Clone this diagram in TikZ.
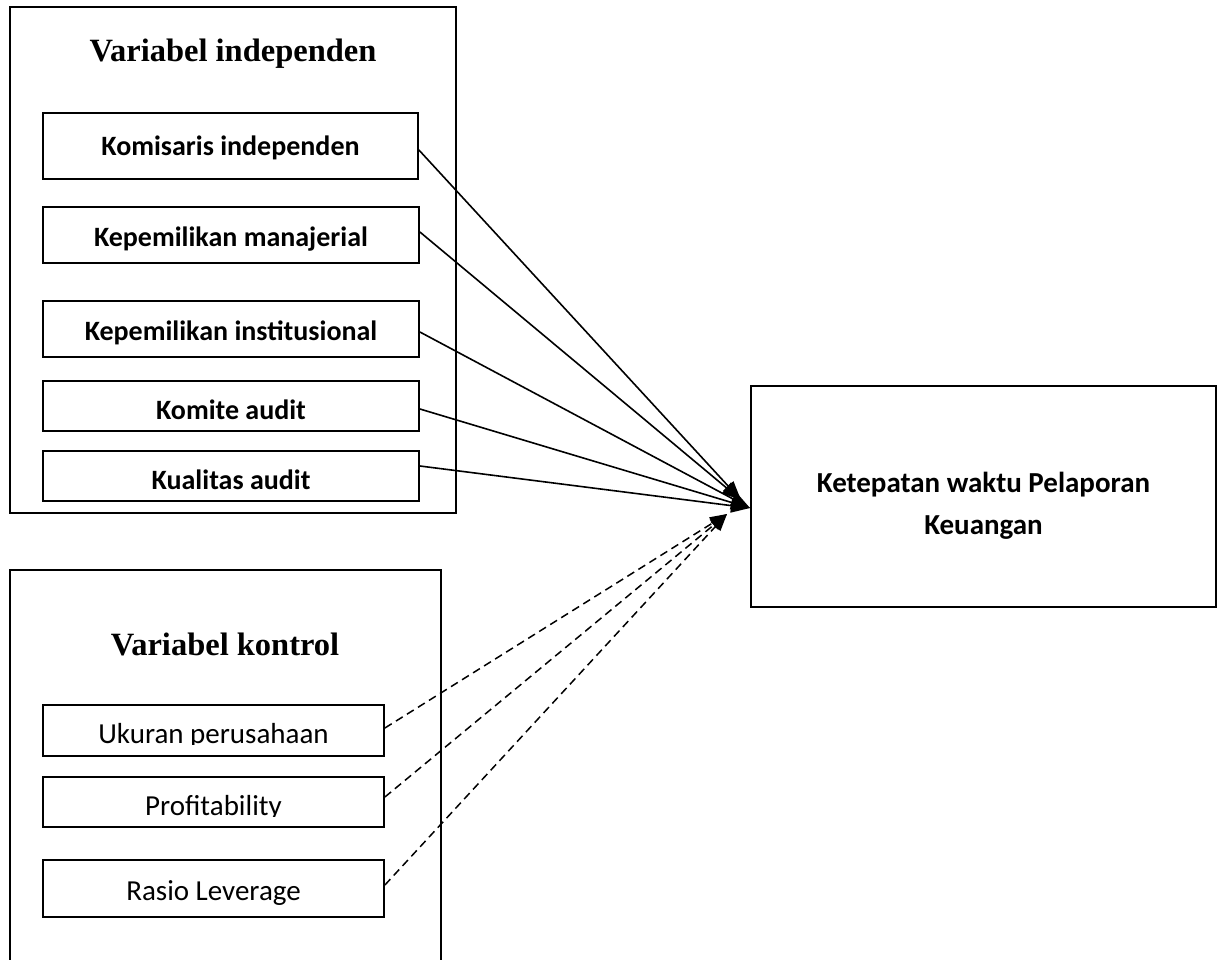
\documentclass[tikz,border=0pt]{standalone}
\usepackage{fontspec}
\setmainfont{Liberation Serif}
\newfontfamily\carl{Carlito}
\usetikzlibrary{arrows.meta}
\begin{document}
\begin{tikzpicture}[x=1pt,y=-1pt,
  container/.style={draw,line width=1.8pt},
  varbox/.style={draw,line width=1.8pt,inner sep=0pt,anchor=center},
  ttl/.style={font=\fontsize{32.5}{38}\selectfont\bfseries},
  btxt/.style={font=\carl\fontsize{28}{42}\selectfont\bfseries},
  rtxt/.style={font=\carl\fontsize{29}{34}\selectfont},
  solidarrow/.style={line width=1.6pt,-{Triangle[length=19pt,width=14pt]}},
  dasharrow/.style={line width=1.5pt,dash pattern=on 8pt off 5pt,-{Triangle[length=17pt,width=13pt]}}]
\useasboundingbox (0,0) rectangle (1223,960);
% containers
\node[container,minimum width=446pt,minimum height=506pt] (indep) at (233,260) {};
\node[ttl] (indeptitle) at (233,54) {Variabel independen};
\draw[container] (10,975) -- (10,570) -- (441,570) -- (441,975);
\node[ttl] (kontroltitle) at (225,644) {Variabel kontrol};
% independent variables
\node[varbox,btxt,text height=20pt,text depth=0pt,minimum width=375pt,minimum height=66pt] (kom) at (230.5,146) {Komisaris independen};
\node[varbox,btxt,text height=22pt,text depth=0pt,minimum width=376pt,minimum height=56pt] (man) at (231,235) {Kepemilikan manajerial};
\node[varbox,btxt,text height=22pt,text depth=0pt,minimum width=376pt,minimum height=56pt] (ins) at (231,329) {Kepemilikan institusional};
\node[varbox,btxt,text height=26pt,text depth=0pt,minimum width=376pt,minimum height=50pt] (kmt) at (231,406) {Komite audit};
\node[varbox,btxt,text height=26pt,text depth=0pt,minimum width=376pt,minimum height=50pt] (kua) at (231,476) {Kualitas audit};
% control variables
\node[varbox,minimum width=341pt,minimum height=51pt] (uku) at (213.5,730.5) {};
\node[varbox,minimum width=341pt,minimum height=50pt] (pro) at (213.5,802) {};
\node[varbox,rtxt,text height=24pt,text depth=0pt,minimum width=341pt,minimum height=57pt] (ras) at (213.5,888.5) {Rasio Leverage};
\begin{scope}
\clip (30,690) rectangle (400,744.5);
\node[rtxt,anchor=base] (ukutxt) at (213.5,743) {Ukuran perusahaan};
\end{scope}
\begin{scope}
\clip (30,770) rectangle (400,816);
\node[rtxt,anchor=base] (protxt) at (213.5,815) {Profitability};
\end{scope}
% dependent
\node[varbox,minimum width=465pt,minimum height=221pt] (dep) at (983.5,496.5) {};
\node[font=\carl\fontsize{29}{42}\selectfont\bfseries,align=center,anchor=base] (deptxt) at (983.5,534) {Ketepatan waktu Pelaporan\\Keuangan};
% end points
\coordinate (tipA) at (741,500);
\coordinate (tipB) at (750,508);
\coordinate (tipC) at (727,514);
% connectors
\draw[solidarrow] ([yshift=-4pt]kom.east) -- (tipA);
\draw[solidarrow] ([yshift=3pt]man.east) -- (tipA);
\draw[solidarrow] ([yshift=-3pt]ins.east) -- (tipB);
\draw[solidarrow] ([yshift=-3pt]kmt.east) -- (tipB);
\draw[solidarrow] ([yshift=10pt]kua.east) -- (tipB);
\draw[dasharrow] ([yshift=2.5pt]uku.east) -- (tipC);
\draw[dasharrow] ([yshift=5pt]pro.east) -- (tipC);
\draw[dasharrow] ([yshift=3.5pt]ras.east) -- (tipC);
\end{tikzpicture}
\end{document}
